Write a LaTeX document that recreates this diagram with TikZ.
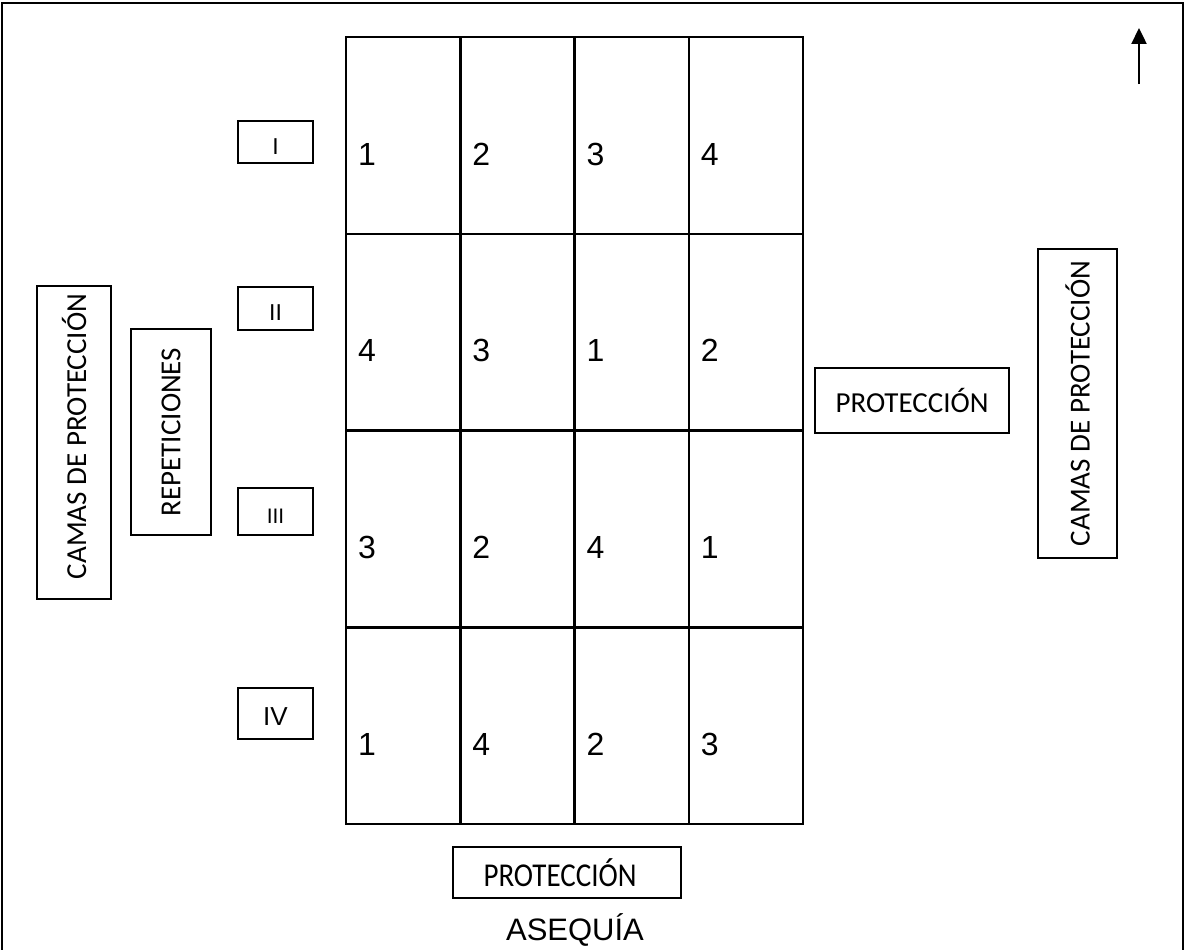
\documentclass[tikz,border=0pt]{standalone}
\usepackage{fontspec}
\setmainfont{Carlito}
\newfontfamily\arialfont{Liberation Sans}
\usetikzlibrary{arrows.meta}

\begin{document}
\begin{tikzpicture}[x=1pt,y=-1pt,
        caja/.style={draw, line width=1.6pt, inner sep=0pt, font=\fontsize{29}{34}\selectfont},
        rep/.style={draw, line width=1.6pt, inner sep=0pt, minimum width=75pt, text height=24pt, text depth=0pt},
        num/.style={anchor=base west, inner sep=0pt, font=\arialfont\fontsize{32}{38}\selectfont}]
    \useasboundingbox (0,0) rectangle (1186,950);
    % marco
    \draw[line width=1.2pt] (2,950) -- (2,3) -- (1183,3) -- (1183,950);
    \draw[line width=2.5pt] (2,3) -- (1183,3);
    % parcelas
    \draw[line width=2.5pt] (346,37) rectangle (803,824);
    \foreach \c in {1,2,3}
        \draw[line width=2.5pt] ({346+114.25*\c},37) -- ({346+114.25*\c},824);
    \foreach \r in {1,2,3}
        \draw[line width=2.5pt] (346,{37+196.75*\r}) -- (803,{37+196.75*\r});
    \foreach \fila [count=\r from 0] in {{1,2,3,4},{4,3,1,2},{3,2,4,1},{1,4,2,3}}
        \foreach \t [count=\c from 0] in \fila
            \node[num] (n\r\c) at ({346+114.25*\c+12},{165+196.75*\r}) {\t};
    % repeticiones
    \node[rep, minimum height=42pt, font=\arialfont\fontsize{23}{26}\selectfont] (rI) at (275.5,142) {I};
    \node[rep, minimum height=43pt, font=\arialfont\fontsize{23}{26}\selectfont] (rII) at (275.5,308.5) {II};
    \node[rep, minimum height=47pt, font=\arialfont\fontsize{21}{24}\selectfont] (rIII) at (275.5,511.5) {III};
    \node[rep, minimum height=51pt, font=\arialfont\fontsize{26}{30}\selectfont] (rIV) at (275.5,713.5) {IV};
    \node[caja, rotate=90, minimum width=313pt, minimum height=74pt] (camasizq) at (74,442.5) {\hspace*{12pt}CAMAS DE PROTECCIÓN};
    \node[caja, rotate=90, minimum width=206pt, minimum height=80pt] (repet) at (171,432) {REPETICIONES};
    \node[caja, rotate=90, minimum width=309pt, minimum height=79pt] (camasder) at (1077.5,403.5) {CAMAS DE PROTECCIÓN};
    \node[caja, minimum width=194pt, minimum height=65pt] (protder) at (912,400.5) {PROTECCIÓN};
    \node[caja, minimum width=228pt, minimum height=51pt] (protabajo) at (567,872.5) {\scalebox{1}[1.15]{PROTECCIÓN}\hspace*{14pt}};
    \node[inner sep=0pt, anchor=base, font=\arialfont\fontsize{31}{36}\selectfont] (asequia) at (575,940) {ASEQUÍA};
    % norte
    \coordinate (pie) at (1139,84);
    \coordinate (punta) at (1139,28);
    \draw[line width=2.4pt, -{Triangle[length=16pt, width=15pt]}] (pie) -- (punta);
\end{tikzpicture}
\end{document}
